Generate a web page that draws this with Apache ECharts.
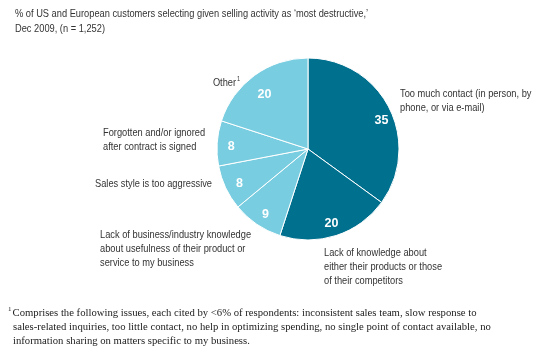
<!DOCTYPE html>
<html><head><meta charset="utf-8">
<script src="https://cdn.jsdelivr.net/npm/echarts@6/dist/echarts.min.js"></script>
<style>html,body{margin:0;padding:0;background:#fff}#c{width:545px;height:360px}</style>
</head><body><div id="c"></div>
<script>
const categories = [
  "Too much contact (in person, by\nphone, or via e-mail)",
  "Lack of knowledge about\neither their products or those\nof their competitors",
  "Lack of business/industry knowledge\nabout usefulness of their product or\nservice to my business",
  "Sales style is too aggressive",
  "Forgotten and/or ignored\nafter contract is signed",
  "Other"
];
const values = [35, 20, 9, 8, 8, 20];
const sliceColors = ["#00708f", "#00708f", "#78cde0", "#78cde0", "#78cde0", "#78cde0"];
const titleLines = "% of US and European customers selecting given selling activity as \u2018most destructive,\u2019\nDec 2009, (n = 1,252)";
const footnote = "Comprises the following issues, each cited by <6% of respondents: inconsistent sales team, slow response to\nsales-related inquiries, too little contact, no help in optimizing spending, no single point of contact available, no\ninformation sharing on matters specific to my business.";

const sans = "'Liberation Sans', Arial, sans-serif";
const SX = 0.8;
const labelPos = [
  {x: 400, y: 87, align: 'left'},
  {x: 324, y: 246, align: 'left'},
  {x: 100, y: 228, align: 'left'},
  {x: 95, y: 177, align: 'left'},
  {x: 103, y: 126, align: 'left'},
  {x: 240, y: 76, align: 'right'}
];
const valueLabelOffsets = [[3, 7], [-1, -1], [2, 0], [3, 1], [2, 3], [3, 9]];

const data = values.map((v, i) => ({value: v, name: categories[i], itemStyle: {color: sliceColors[i]}}));

const graphics = [
  {type: 'text', x: 15, y: 6, scaleX: SX, style: {text: titleLines, font: "11.6px " + sans, fill: '#333', lineHeight: 15}},
  {type: 'text', x: 8, y: 306, style: {
    text: '{s|1}' + footnote.split('\n').map((l, i) => i === 0 ? l : '{p| }' + l).join('\n'),
    font: "10.7px 'Liberation Serif', 'DejaVu Serif', serif", fill: '#222', lineHeight: 14,
    rich: {s: {fontSize: 7, verticalAlign: 'top', fontFamily: "'Liberation Serif', serif", fill: '#222', padding: [0, 1, 4, 0]}, p: {width: 5, fontSize: 10}}
  }}
];
categories.forEach((c, i) => {
  const p = labelPos[i];
  const isOther = i === categories.length - 1;
  graphics.push({type: 'text', x: p.x, y: p.y, scaleX: SX, style: {
    text: isOther ? c + '{s|1}' : c,
    align: p.align, verticalAlign: 'top',
    font: "11.6px " + sans, fill: '#333', lineHeight: 14,
    rich: {s: {fontSize: 7, verticalAlign: 'top', padding: [0, 0, 5, 1], fill: '#333', fontFamily: sans}}
  }});
});

const chart = echarts.init(document.getElementById('c'));
chart.setOption({
  animation: false,
  graphic: graphics,
  series: [
    {
      type: 'pie', center: [308, 149], radius: [0, 91], startAngle: 90, clockwise: true,
      data: data, silent: true,
      itemStyle: {borderColor: '#fff', borderWidth: 1},
      label: {show: false}, labelLine: {show: false}
    },
    {
      type: 'pie', center: [308, 149], radius: [61, 91], startAngle: 90, clockwise: true,
      data: data.map((d, i) => ({value: d.value, name: d.name, label: {offset: valueLabelOffsets[i]}})), silent: true,
      itemStyle: {color: 'rgba(0,0,0,0)', borderWidth: 0},
      label: {show: true, position: 'inside', formatter: '{c}', color: '#fff', fontWeight: 'bold', fontSize: 12.5, fontFamily: sans},
      labelLine: {show: false}
    }
  ]
});
</script></body></html>
